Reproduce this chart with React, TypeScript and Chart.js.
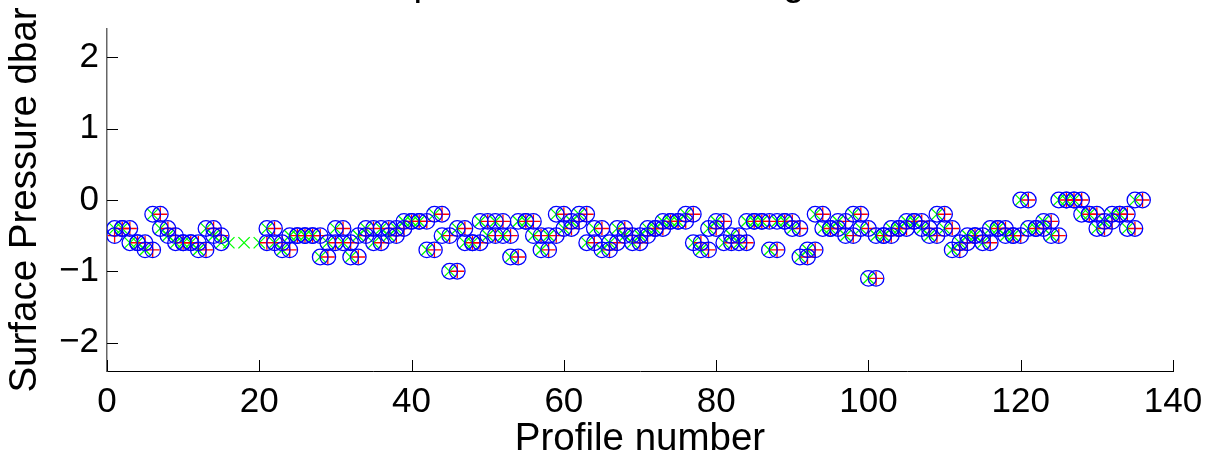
import React, { useEffect, useRef } from "react";
import { Chart, registerables } from "chart.js";
Chart.register(...registerables);

// Profile numbers 1..135 and raw surface pressure (dbar); null = no value
const profileNumbers = [
  1, 2, 3, 4, 5, 6, 7, 8, 9, 10, 11, 12, 13, 14, 15, 16, 17, 18, 19, 20,
  21, 22, 23, 24, 25, 26, 27, 28, 29, 30, 31, 32, 33, 34, 35, 36, 37, 38, 39, 40,
  41, 42, 43, 44, 45, 46, 47, 48, 49, 50, 51, 52, 53, 54, 55, 56, 57, 58, 59, 60,
  61, 62, 63, 64, 65, 66, 67, 68, 69, 70, 71, 72, 73, 74, 75, 76, 77, 78, 79, 80,
  81, 82, 83, 84, 85, 86, 87, 88, 89, 90, 91, 92, 93, 94, 95, 96, 97, 98, 99, 100,
  101, 102, 103, 104, 105, 106, 107, 108, 109, 110, 111, 112, 113, 114, 115, 116, 117, 118, 119, 120,
  121, 122, 123, 124, 125, 126, 127, 128, 129, 130, 131, 132, 133, 134, 135,
];
const rawSP: (number | null)[] = [
  -0.4, -0.4, -0.6, -0.6, -0.7, -0.2, -0.4, -0.5, -0.6, -0.6, -0.6, -0.7, -0.4, -0.5, -0.6, -0.6, null, -0.6, null, -0.6,
  -0.4, -0.6, -0.7, -0.5, -0.5, -0.5, -0.5, -0.8, -0.6, -0.4, -0.6, -0.8, -0.5, -0.4, -0.6, -0.4, -0.5, -0.4, -0.3, -0.3,
  -0.3, -0.7, -0.2, -0.5, -1.0, -0.4, -0.6, -0.6, -0.3, -0.5, -0.3, -0.5, -0.8, -0.3, -0.3, -0.5, -0.7, -0.5, -0.2, -0.4,
  -0.3, -0.2, -0.6, -0.4, -0.7, -0.6, -0.4, -0.5, -0.6, -0.5, -0.4, -0.4, -0.3, -0.3, -0.3, -0.2, -0.6, -0.7, -0.4, -0.3,
  -0.6, -0.5, -0.6, -0.3, -0.3, -0.3, -0.7, -0.3, -0.3, -0.4, -0.8, -0.7, -0.2, -0.4, -0.4, -0.3, -0.5, -0.2, -0.4, -1.1,
  -0.5, -0.5, -0.4, -0.4, -0.3, -0.3, -0.4, -0.5, -0.2, -0.4, -0.7, -0.6, -0.5, -0.5, -0.6, -0.4, -0.4, -0.5, -0.5, 0,
  -0.4, -0.4, -0.3, -0.5, 0, 0, 0, -0.2, -0.2, -0.4, -0.3, -0.2, -0.2, -0.4, 0,
];
// Profiles whose surface pressure was not used (raw only, no circle / no +)
const rejectedProfiles = [16, 17, 18, 19, 20];
// Value carried into profile 1 from profile 0
const carriedIntoFirst = -0.5;

const xTicks = [0, 20, 40, 60, 80, 100, 120, 140];
const yTicks = [-2, -1, 0, 1, 2];
const titleText = "Surface pressure offsets during the mission";
const xLabel = "Profile number";
const yLabel = "Surface Pressure dbar";

const FONT = '"Liberation Sans", Arial, Helvetica, sans-serif';

export default function App() {
  const ref = useRef<HTMLCanvasElement | null>(null);
  useEffect(() => {
    document.body.style.margin = "0";
    const canvas = ref.current;
    if (!canvas) return;

    const rawPts: { x: number; y: number }[] = [];
    const usedPts: { x: number; y: number }[] = [];
    const circlePts: { x: number; y: number }[] = [];
    usedPts.push({ x: 1, y: carriedIntoFirst });
    circlePts.push({ x: 1, y: carriedIntoFirst });
    profileNumbers.forEach((p, i) => {
      const v = rawSP[i];
      if (v === null || v === undefined) return;
      rawPts.push({ x: p, y: v });
      if (!rejectedProfiles.includes(p)) circlePts.push({ x: p, y: v });
      // value is applied to the following profile
      const next = p + 1;
      if (!rejectedProfiles.includes(next) && next <= profileNumbers[profileNumbers.length - 1] + 1) {
        usedPts.push({ x: next, y: v });
        circlePts.push({ x: next, y: v });
      }
    });

    const tickPlugin = {
      id: "inwardTicks",
      afterDraw(chart: any) {
        const { ctx, chartArea, scales } = chart;
        ctx.save();
        ctx.strokeStyle = "#000";
        ctx.lineWidth = 1;
        const xs = scales.x;
        xs.ticks.forEach((t: any) => {
          const px = Math.round(xs.getPixelForValue(t.value)) + 0.5;
          ctx.beginPath();
          ctx.moveTo(px, chartArea.bottom);
          ctx.lineTo(px, chartArea.bottom - 11);
          ctx.stroke();
        });
        const ys = scales.y;
        ys.ticks.forEach((t: any) => {
          const py = Math.round(ys.getPixelForValue(t.value)) + 0.5;
          ctx.beginPath();
          ctx.moveTo(chartArea.left, py);
          ctx.lineTo(chartArea.left + 11, py);
          ctx.stroke();
        });
        ctx.fillStyle = "#000";
        ctx.font = `38.5px ${FONT}`;
        ctx.textAlign = "center";
        ctx.textBaseline = "alphabetic";
        ctx.fillText(titleText, (chartArea.left + chartArea.right) / 2, -5);
        ctx.restore();
      },
    };

    const chart = new Chart(canvas, {
      type: "scatter",
      data: {
        datasets: [
          {
            label: "circles",
            data: circlePts,
            pointStyle: "circle",
            pointRadius: 7.8,
            pointBorderColor: "#0000ff",
            pointBackgroundColor: "rgba(0,0,0,0)",
            pointBorderWidth: 1.3,
            showLine: false,
            order: 0,
          },
          {
            label: "used",
            data: usedPts,
            pointStyle: "cross",
            pointRadius: 7,
            pointBorderColor: "#ff0000",
            pointBackgroundColor: "#ff0000",
            pointBorderWidth: 1.3,
            showLine: false,
            order: 1,
          },
          {
            label: "raw",
            data: rawPts,
            pointStyle: "crossRot",
            pointRadius: 8,
            pointBorderColor: "#00ff00",
            pointBackgroundColor: "#00ff00",
            pointBorderWidth: 1.3,
            showLine: false,
            order: 2,
          },
        ],
      },
      options: {
        animation: false,
        responsive: false,
        devicePixelRatio: 1,
        events: [],
        layout: { padding: { top: 24, right: 45, left: 0, bottom: 0 } },
        plugins: { legend: { display: false }, tooltip: { enabled: false }, title: { display: false } },
        scales: {
          x: {
            type: "linear",
            min: 0,
            max: 140,
            afterFit: (s: any) => {
              s.height = 90;
            },
            afterBuildTicks: (s: any) => {
              s.ticks = xTicks.map((v) => ({ value: v }));
            },
            grid: { display: true, drawOnChartArea: false, drawTicks: false },
            border: { display: true, color: "#000", width: 1 },
            ticks: {
              color: "#000",
              font: { family: FONT, size: 35 },
              padding: 10,
              maxRotation: 0,
              autoSkip: false,
              callback: (v: any) => String(v),
            },
            title: {
              display: true,
              text: xLabel,
              color: "#000",
              font: { family: FONT, size: 38.5, lineHeight: 1.0 },
              padding: { top: 0, bottom: 2 },
            },
          },
          y: {
            type: "linear",
            min: -2.4,
            max: 2.4,
            afterFit: (s: any) => {
              s.width = 107;
            },
            afterBuildTicks: (s: any) => {
              s.ticks = yTicks.map((v) => ({ value: v }));
            },
            grid: { display: true, drawOnChartArea: false, drawTicks: false },
            border: { display: true, color: "#666", width: 1.5 },
            ticks: {
              color: "#000",
              font: { family: FONT, size: 35 },
              padding: 8,
              autoSkip: false,
              callback: (v: any) => String(v).replace("-", "\u2212"),
            },
            title: {
              display: true,
              text: yLabel,
              color: "#000",
              font: { family: FONT, size: 38.5, lineHeight: 1.0 },
              padding: { top: 6, bottom: 0 },
            },
          },
        },
      },
      plugins: [tickPlugin],
    });
    return () => chart.destroy();
  }, []);
  return (
    <div style={{ position: "fixed", left: 0, top: 0, width: 1218, height: 461, background: "#fff" }}>
      <canvas ref={ref} width={1218} height={461} style={{ width: 1218, height: 461, display: "block" }} />
    </div>
  );
}
